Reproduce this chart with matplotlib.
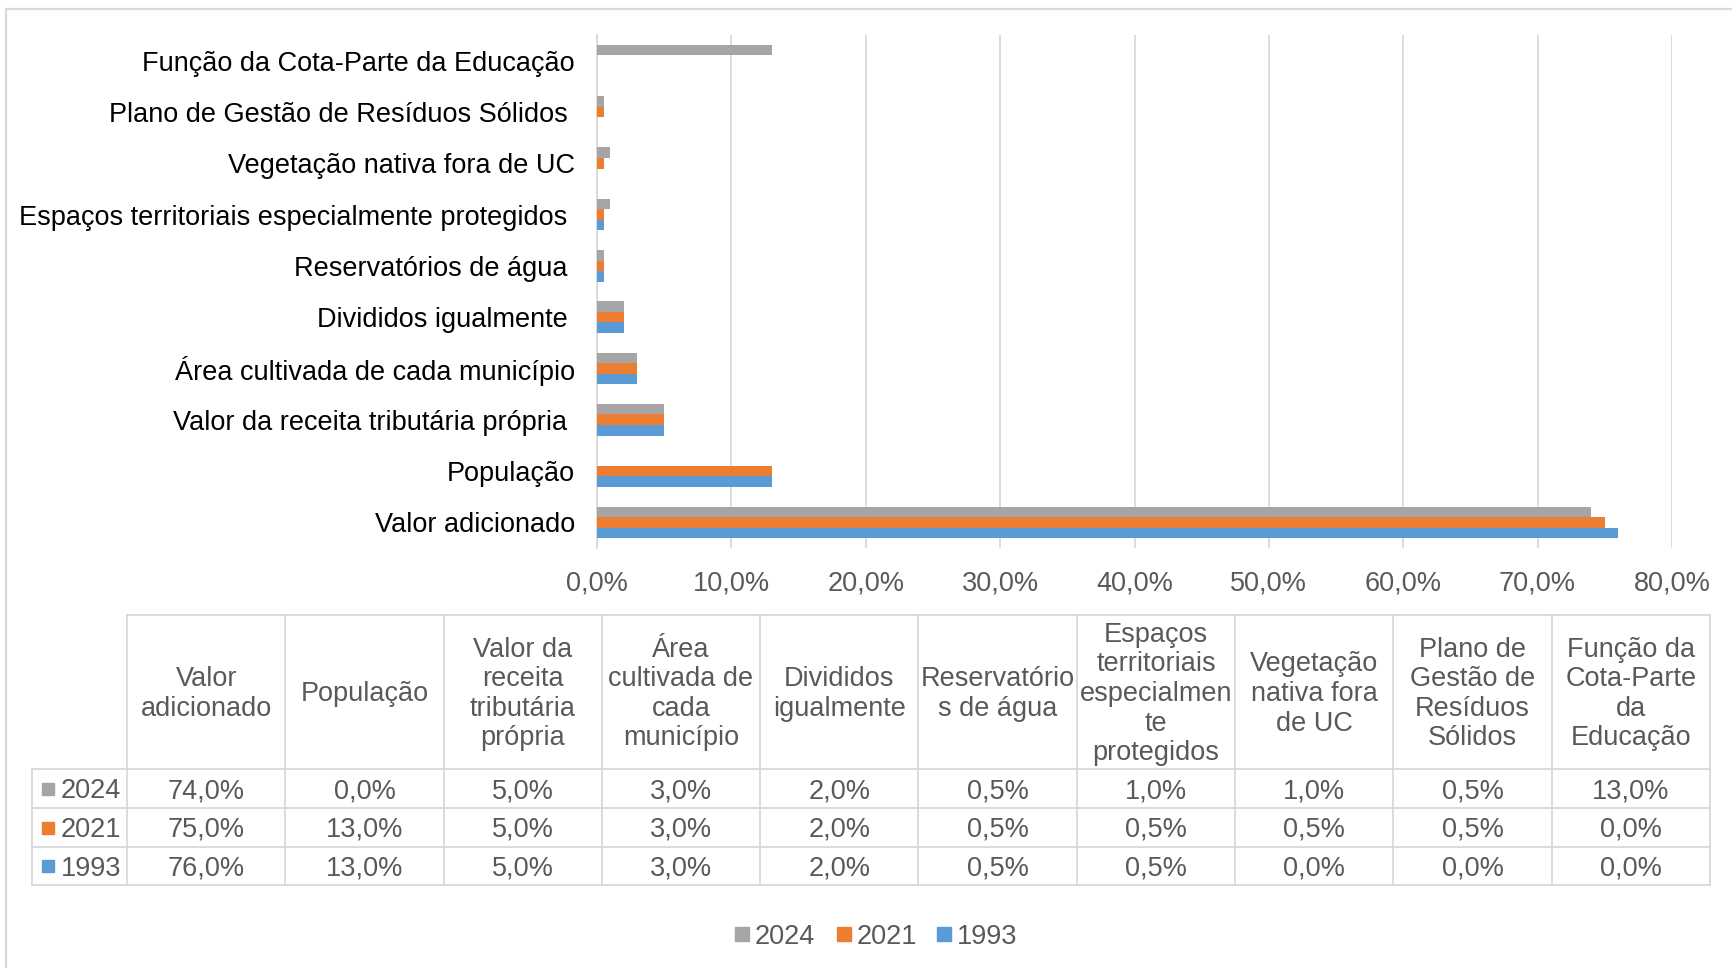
import matplotlib as mpl
mpl.use('Agg')
from matplotlib import pyplot as plt
from matplotlib.patches import Rectangle
import numpy as np

plt.rcParams['font.family'] = ['Liberation Sans', 'DejaVu Sans']

# data (percent of the ICMS share per criterion)
years = ['2024', '2021', '1993']
colors = ['#A5A5A5', '#ED7D31', '#5B9BD5']

categories = ['Valor adicionado', 'População', 'Valor da receita tributária própria ',
              'Área cultivada de cada município', 'Divididos igualmente ',
              'Reservatórios de água ', 'Espaços territoriais especialmente protegidos ',
              'Vegetação nativa fora de UC', 'Plano de Gestão de Resíduos Sólidos ',
              'Função da Cota-Parte da Educação']

header_labels = ['Valor\nadicionado', 'População', 'Valor da\nreceita\ntributária\nprópria',
                 'Área\ncultivada de\ncada\nmunicípio', 'Divididos\nigualmente',
                 'Reservatório\ns de água', 'Espaços\nterritoriais\nespecialmen\nte\nprotegidos',
                 'Vegetação\nnativa fora\nde UC', 'Plano de\nGestão de\nResíduos\nSólidos',
                 'Função da\nCota-Parte\nda\nEducação']

v2024 = [74.0, 0.0, 5.0, 3.0, 2.0, 0.5, 1.0, 1.0, 0.5, 13.0]
v2021 = [75.0, 13.0, 5.0, 3.0, 2.0, 0.5, 0.5, 0.5, 0.5, 0.0]
v1993 = [76.0, 13.0, 5.0, 3.0, 2.0, 0.5, 0.5, 0.0, 0.0, 0.0]
series = [v2024, v2021, v1993]

xticks = [0, 10, 20, 30, 40, 50, 60, 70, 80]


def pct(v):
    return ('%.1f%%' % v).replace('.', ',')


W, H = 1733, 968
fig = plt.figure(figsize=(W / 100, H / 100), dpi=100)

grid_c = '#D9D9D9'
text_c = '#595959'
fs = 19.5

# overlay in pixel coordinates for frame, data table and legend
ov = fig.add_axes([0, 0, 1, 1], zorder=-1)
ov.set_xlim(0, W)
ov.set_ylim(H, 0)
ov.axis('off')

ov.plot([6, 6], [H + 5, 9], color=grid_c, lw=1.6)
ov.plot([6, W + 5], [9, 9], color=grid_c, lw=1.6)

#########################################################################
# bar chart
ax = fig.add_axes([597 / W, 1 - 548 / H, (1672 - 597) / W, (548 - 35) / H])
ax.set_facecolor('none')

y = np.arange(len(categories))
bh = 0.205
offsets = [bh, 0, -bh]
for i in range(len(years)):
    ax.barh(y + offsets[i], series[i], height=bh, color=colors[i], zorder=3)

ax.set_xlim(0, 80)
ax.set_ylim(-0.5, len(categories) - 0.5)
ax.set_xticks(xticks)
ax.set_xticklabels([pct(v) for v in xticks])
ax.set_yticks(y)
ax.set_yticklabels(categories)

ax.grid(axis='x', color=grid_c, lw=1.3, zorder=0)
for s in ['top', 'right', 'bottom']:
    ax.spines[s].set_visible(False)
ax.spines['left'].set_color(grid_c)
ax.spines['left'].set_linewidth(1.3)

ax.tick_params(axis='x', length=0, pad=16.5, labelsize=fs, labelcolor=text_c)
ax.tick_params(axis='y', length=0, pad=16, labelsize=fs, labelcolor='black')

#########################################################################
# data table under the chart
col_x = 127 + np.arange(len(categories) + 1) * 158.3
row_y = [615, 769, 808, 847, 885]
left = 32

ov.plot([col_x[0], col_x[-1]], [row_y[0], row_y[0]], color=grid_c, lw=1.3)
for ry in row_y[1:]:
    ov.plot([left, col_x[-1]], [ry, ry], color=grid_c, lw=1.3)
for cx in col_x:
    ov.plot([cx, cx], [row_y[0], row_y[-1]], color=grid_c, lw=1.3)
ov.plot([left, left], [row_y[1], row_y[-1]], color=grid_c, lw=1.3)

for j, lab in enumerate(header_labels):
    cx = (col_x[j] + col_x[j + 1]) / 2
    ov.text(cx, (row_y[0] + row_y[1]) / 2 + 2, lab, ha='center', va='center',
            multialignment='center', fontsize=fs, color=text_c, linespacing=1.18)

for i in range(len(years)):
    cy = (row_y[i + 1] + row_y[i + 2]) / 2
    base = cy + 9.5
    ov.add_patch(Rectangle((42, cy - 6), 12, 12, color=colors[i]))
    ov.text(61, base, years[i], ha='left', va='baseline', fontsize=fs, color=text_c)
    for j, v in enumerate(series[i]):
        cx = (col_x[j] + col_x[j + 1]) / 2
        ov.text(cx, base, pct(v), ha='center', va='baseline', fontsize=fs, color=text_c)

#########################################################################
# legend
leg_x = [735, 837, 937]
for i in range(len(years)):
    ov.add_patch(Rectangle((leg_x[i], 927), 14, 14, color=colors[i]))
    ov.text(leg_x[i] + 20, 934 + 9.5, years[i], ha='left', va='baseline',
            fontsize=fs, color=text_c)

plt.savefig('out.png', dpi=100)
plt.close()
